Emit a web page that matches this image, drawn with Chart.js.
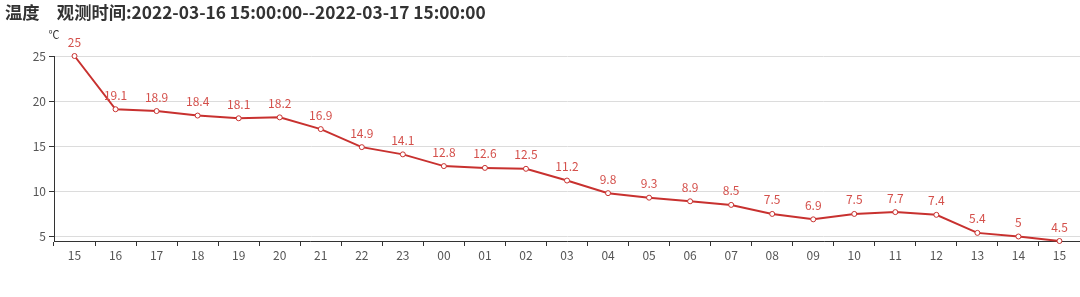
<!DOCTYPE html>
<html>
<head>
<meta charset="utf-8">
<script src="https://cdn.jsdelivr.net/npm/chart.js@4/dist/chart.umd.min.js"></script>
<style>
  html, body { margin: 0; padding: 0; background: #fff; overflow: hidden; }
  #wrap { width: 1085px; height: 297px; position: relative; }
</style>
</head>
<body>
<div id="wrap"><canvas id="temp-chart"></canvas></div>
<script>
const hours = ['15', '16', '17', '18', '19', '20', '21', '22', '23', '00', '01', '02', '03',
               '04', '05', '06', '07', '08', '09', '10', '11', '12', '13', '14', '15'];
const temps = [25, 19.1, 18.9, 18.4, 18.1, 18.2, 16.9, 14.9, 14.1, 12.8, 12.6, 12.5, 11.2,
               9.8, 9.3, 8.9, 8.5, 7.5, 6.9, 7.5, 7.7, 7.4, 5.4, 5, 4.5];
const yTicks = [5, 10, 15, 20, 25];
const titleText = '温度　观测时间:2022-03-16 15:00:00--2022-03-17 15:00:00';
const unitText = '℃';

const FONT = '"Microsoft YaHei", "Noto Sans CJK SC", "Noto Sans", sans-serif';
const RED = '#c8312f';

// title, unit and value labels
const extras = {
    id: 'extras',
    afterDatasetsDraw(chart) {
        const ctx = chart.ctx;
        ctx.save();
        ctx.fillStyle = '#333';
        ctx.font = 'bold 17.3px ' + FONT;
        ctx.textBaseline = 'middle';
        ctx.textAlign = 'left';
        ctx.fillText(titleText, 5, 12);

        ctx.font = '11px ' + FONT;
        ctx.textAlign = 'center';
        ctx.fillText(unitText, 54, 35);

        const meta = chart.getDatasetMeta(0);
        ctx.fillStyle = '#d4504b';
        ctx.font = '12px ' + FONT;
        ctx.textBaseline = 'middle';
        meta.data.forEach((pt, i) => {
            ctx.fillText(String(temps[i]), pt.x, pt.y - 14);
        });
        ctx.restore();
    }
};

const ctx = document.getElementById('temp-chart').getContext('2d');
window.tempChart = new Chart(ctx, {
    type: 'line',
    data: {
        labels: hours,
        datasets: [{
            label: '温度',
            data: temps,
            borderColor: RED,
            borderWidth: 2,
            backgroundColor: '#fff',
            pointBackgroundColor: '#fff',
            pointBorderColor: RED,
            pointBorderWidth: 1,
            pointRadius: 2.5,
            tension: 0,
            clip: false
        }]
    },
    options: {
        responsive: true,
        maintainAspectRatio: false,
        animation: false,
        layout: { padding: { top: 56, left: 0, right: 0, bottom: 0 } },
        plugins: {
            legend: { display: false },
            tooltip: { enabled: false }
        },
        scales: {
            x: {
                offset: true,
                grid: {
                    offset: true,
                    drawOnChartArea: false,
                    drawTicks: true,
                    tickLength: 5,
                    tickColor: '#333'
                },
                border: { color: '#333', width: 1 },
                ticks: {
                    color: '#555',
                    font: { size: 12, family: FONT },
                    padding: 2,
                    maxRotation: 0,
                    autoSkip: false
                },
                afterFit(scale) {
                    scale.height = 56;
                    scale.paddingLeft = 0;
                    scale.paddingRight = 0;
                }
            },
            y: {
                min: 4.5,
                max: 25,
                ticks: {
                    stepSize: 5,
                    color: '#555',
                    font: { size: 12, family: FONT },
                    padding: 3
                },
                grid: {
                    color: '#dcdcdc',
                    tickColor: '#333',
                    tickLength: 5
                },
                border: { color: '#333', width: 1 },
                afterBuildTicks(scale) {
                    scale.ticks = yTicks.map(v => ({ value: v }));
                },
                afterFit(scale) {
                    scale.width = 54;
                }
            }
        }
    },
    plugins: [extras]
});
</script>
</body>
</html>
